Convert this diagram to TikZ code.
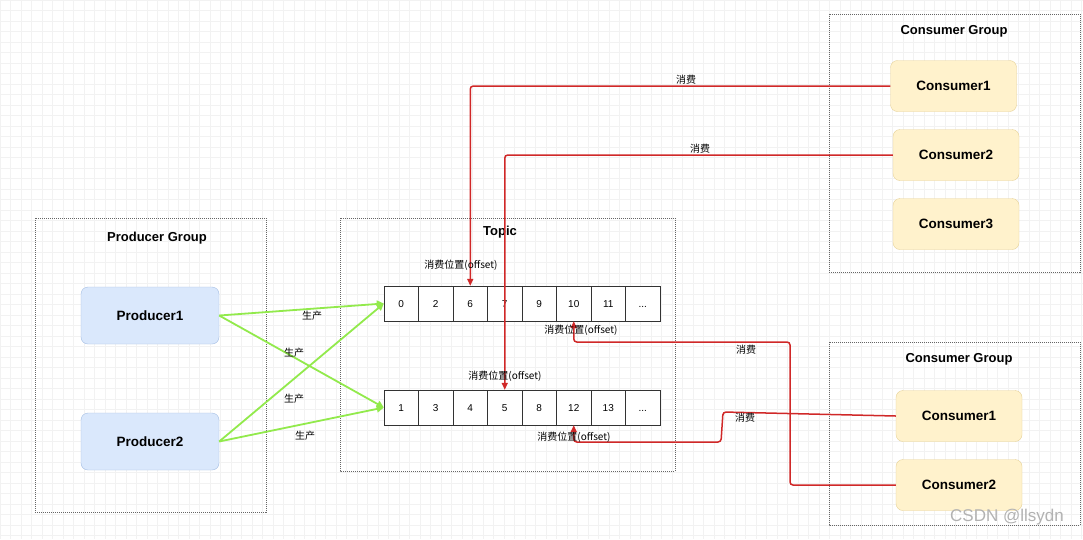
\documentclass[tikz,border=0pt]{standalone}
\usepackage{fontspec}
\setmainfont{Liberation Sans}
\newfontfamily\cjk{Noto Sans CJK SC}
\usetikzlibrary{arrows.meta}

\definecolor{prodfill}{HTML}{DAE8FC}
\definecolor{proddraw}{HTML}{A3BDE3}
\definecolor{consfill}{HTML}{FFF2CC}
\definecolor{consdraw}{HTML}{E6D196}
\definecolor{usered}{HTML}{D02828}
\definecolor{prodgreen}{HTML}{92EA4C}
\definecolor{gridline}{HTML}{F2F2F2}
\newcommand\moredots{...}

\tikzset{
  groupbox/.style={draw=black!60, dash pattern=on 1pt off 1pt, line width=0.7pt},
  grouptitle/.style={font=\bfseries\fontsize{13}{15}\selectfont},
  prodbox/.style={draw=proddraw, fill=prodfill, rounded corners=7pt, minimum width=138pt, minimum height=57pt, font=\bfseries\fontsize{13.5}{15}\selectfont},
  consbox/.style={draw=consdraw, fill=consfill, rounded corners=7pt, minimum width=126pt, minimum height=51pt, font=\bfseries\fontsize{13.5}{15}\selectfont},
  cell/.style={draw=black!80, fill=white, minimum width=34.5pt, minimum height=35pt, inner sep=0pt, text height=7.2pt, text depth=0pt, font=\fontsize{10}{12}\selectfont},
  produce/.style={draw=prodgreen, line width=1.8pt, -{Triangle[length=7pt,width=7pt]}},
  consume/.style={draw=usered, line width=1.5pt, rounded corners=3pt, -{Triangle[length=7pt,width=6pt]}},
  lbl/.style={font=\cjk\fontsize{10}{12}\selectfont, inner sep=1pt},
}

\begin{document}
\begin{tikzpicture}[x=1pt, y=-1pt]
		%%%%% START %%%%%
		\useasboundingbox (0,0) rectangle (1083,539);
		\fill[white] (0,0) rectangle (1083,539);
		
		% background grid
		\foreach \gx in {0,10.5,...,1083} \draw[gridline, line width=0.4pt] (\gx,0) -- (\gx,539);
		\foreach \gy in {0,10.5,...,539} \draw[gridline, line width=0.4pt] (0,\gy) -- (1083,\gy);
		
		% groups
		\draw[groupbox] (35,218) rectangle (266,512);
		\node[grouptitle] (pgtitle) at (157,238) {Producer Group};
		\draw[groupbox] (340,218) rectangle (675,471);
		\node[grouptitle] (toptitle) at (500,232) {Topic};
		\draw[groupbox] (829,14) rectangle (1080,272);
		\node[grouptitle] (cgatitle) at (954,31) {Consumer Group};
		\draw[groupbox] (829,342) rectangle (1080,525);
		\node[grouptitle] (cgbtitle) at (959,359) {Consumer Group};
		
		% producers
		\node[prodbox] (p1) at (150,315.5) {Producer1};
		\node[prodbox] (p2) at (150,441.5) {Producer2};
		
		% consumers
		\node[consbox] (ca1) at (953.5,86) {Consumer1};
		\node[consbox] (ca2) at (956,155) {Consumer2};
		\node[consbox] (ca3) at (956,224) {Consumer3};
		\node[consbox] (cb1) at (959,416) {Consumer1};
		\node[consbox] (cb2) at (959,485) {Consumer2};
		
		% partitions
		\foreach \v [count=\i from 0] in {0,2,6,7,9,10,11,\moredots}
			\node[cell] (t\i) at ({384+34.5*(\i+0.5)},303.5) {\v};
		\foreach \v [count=\i from 0] in {1,3,4,5,8,12,13,\moredots}
			\node[cell] (b\i) at ({384+34.5*(\i+0.5)},407.5) {\v};
		
		% produce
		\draw[produce] (p1.east) -- (t0.west);
		\draw[produce] (p1.east) -- (b0.west);
		\draw[produce] (p2.east) -- (t0.west);
		\draw[produce] (p2.east) -- (b0.west);
		\node[lbl] (l1) at (312,316) {生产};
		\node[lbl] (l2) at (294,353) {生产};
		\node[lbl] (l3) at (294,399) {生产};
		\node[lbl] (l4) at (305,436) {生产};
		
		% consume
		\draw[consume] (ca1.west) -| (t2.north);
		\draw[consume] (ca2.west) -| (b3.north);
		\draw[consume] (cb1.west) -- (723,412) -- (721,442) -| (b5.south);
		\draw[consume] (cb2.west) -- (790,485) -- (790,342) -| (t5.south);
		\node[lbl] (m1) at (686,80) {消费};
		\node[lbl] (m2) at (700,149) {消费};
		\node[lbl] (m3) at (746,350) {消费};
		\node[lbl] (m4) at (745,418) {消费};
		
		% offsets
		\node[lbl] (o1) at (461,265) {消费位置(offset)};
		\node[lbl] (o2) at (581,330) {消费位置(offset)};
		\node[lbl] (o3) at (505,376) {消费位置(offset)};
		\node[lbl] (o4) at (574,437) {消费位置(offset)};
		
		\node[text=black!30, font=\fontsize{17}{19}\selectfont] (mark) at (1007,517) {CSDN @llsydn};
		%%%%% END %%%%%
\end{tikzpicture}
\end{document}
